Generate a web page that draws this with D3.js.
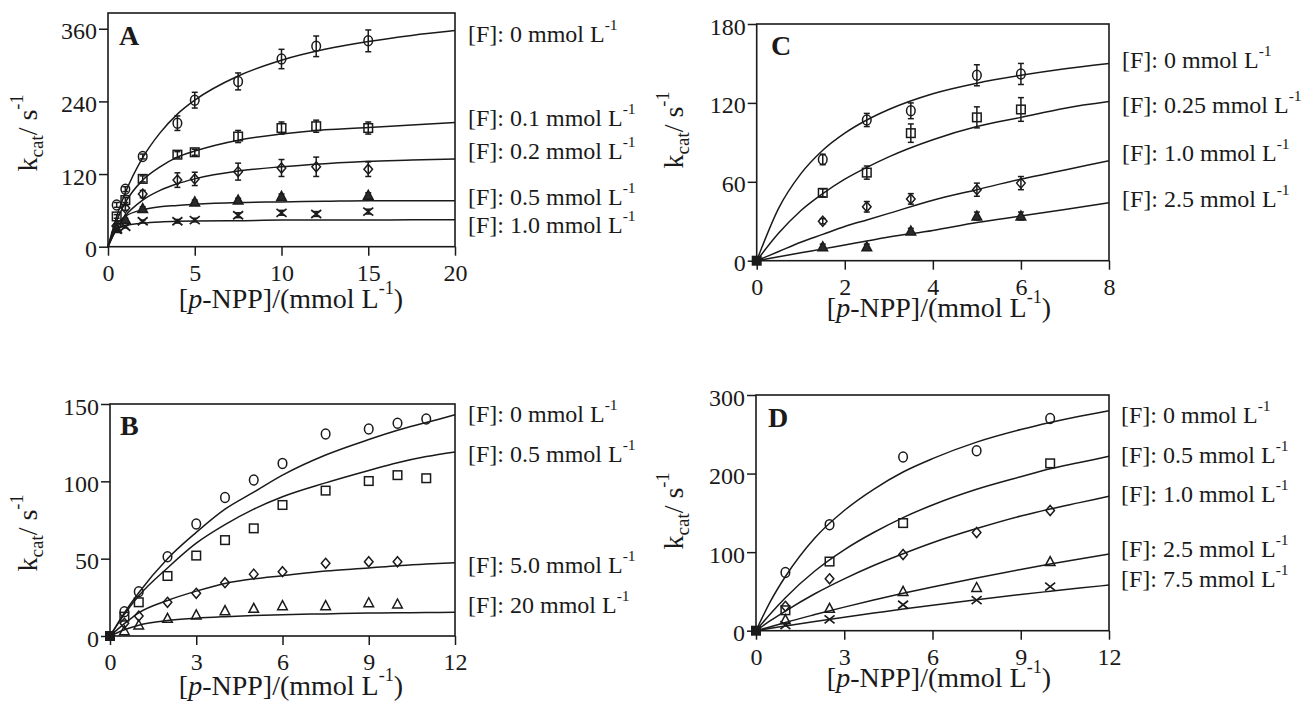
<!DOCTYPE html>
<html>
<head>
<meta charset="utf-8">
<script src="https://cdn.jsdelivr.net/npm/d3@7"></script>
<style>
body { margin: 0; background: #fff; }
svg { display: block; }
text { font-family: "Liberation Serif", "Times New Roman", serif; fill: #1a1a1a; }
</style>
</head>
<body>
<svg id="chart" width="1309" height="702"></svg>
<script>
// ---- panel A : measured points (k_cat, s-1) ----
var xA = [0.5, 1, 2, 4, 5, 7.5, 10, 12, 15];
var a_F0 = [69, 95, 149, 204, 242, 273, 310, 331, 340];
var a_F0_err = [4, 4, 4, 12, 13, 14, 16, 17, 18];
var a_F01 = [50, 77, 112, 152, 156, 182, 196, 199, 196];
var a_F01_err = [3, 4, 5, 5, 5, 10, 10, 10, 10];
var a_F02 = [35, 64, 87, 110, 112, 124, 130, 132, 128];
var a_F02_err = [3, 4, 6, 12, 11, 14, 14, 16, 12];
var a_F05 = [30, 45, 63, null, 74, 77, 83, null, 85];
var a_F05_err = [2, 2, 3, 0, 3, 3, 4, 0, 4];
var a_F10 = [28, 33, 42, 42, 44, 52, 56, 54, 58];
var a_F10_err = [2, 2, 2, 3, 3, 4, 4, 4, 4];
// fitted curves
var cxA = [0, 0.5, 1, 2, 3, 4, 5, 7.5, 10, 12.5, 15, 17.5, 20];
var fitA0 = [0, 50, 89, 147, 188, 219, 242, 282, 308, 326, 339, 349, 357];
var fitA1 = [0, 43, 73, 110, 132, 148, 158, 176, 186, 193, 197, 201, 205];
var fitA2 = [0, 30, 51, 77, 93, 104, 112, 125, 132, 137, 141, 143, 145];
var fitA3 = [0, 37, 50, 61, 66, 68, 70, 73, 74, 75, 76, 76, 76];
var fitA4 = [0, 28, 35, 39, 41, 42, 42.5, 43, 44, 44, 44, 44.5, 44.5];
var legA = ['0', '0.1', '0.2', '0.5', '1.0'];

// ---- panel C ----
var xC = [1.5, 2.5, 3.5, 5, 6];
var c_F0 = [77, 107, 114, 141, 142];
var c_F0_err = [4, 5, 6, 8, 8];
var c_F025 = [51.6, 67, 97, 109, 115];
var c_F025_err = [3, 5, 7, 8, 9];
var c_F10 = [30, 41, 47, 54, 59];
var c_F10_err = [2, 4, 4, 5, 5];
var c_F25 = [10.6, 10.6, 22.6, 34, 34];
var c_F25_err = [2, 2, 2, 3, 3];
var cxC = [0, 0.5, 1, 1.5, 2, 2.5, 3, 4, 5, 6, 7, 8];
var fitC0 = [0, 40, 66, 84, 97, 107, 115, 127, 135, 141, 146, 150];
var fitC1 = [0, 21, 38, 51, 62, 71, 79, 92, 102, 109, 116, 121];
var fitC2 = [0, 7, 14, 20, 26, 31, 36, 46, 54, 62, 69, 76];
var fitC3 = [0, 3, 6, 9, 12, 15, 18, 23, 29, 34, 39, 44];
var legC = ['0', '0.25', '1.0', '2.5'];

// ---- panel B ----
var xB = [0.5, 1, 2, 3, 4, 5, 6, 7.5, 9, 10, 11];
var b_F0 = [15.7, 28.6, 51.3, 72.4, 89.6, 100.8, 111.6, 130.6, 133.8, 137.5, 140.3];
var b_F05 = [12.5, 21.8, 38.8, 52, 62, 69.6, 84.7, 94, 100.2, 104, 102];
var b_F50 = [8.2, 12.9, 21.8, 27.6, 34.5, 40, 41.6, 47, 48, 48, null];
var b_F20 = [3.4, 7.1, 11.4, 13.6, 16.4, 17.9, 19.6, 19.6, 21.5, 20.7, null];
var cxB = [0, 0.5, 1, 2, 3, 4, 5, 6, 7.5, 9, 10, 11, 12];
var fitB0 = [0, 15, 28, 50, 67, 82, 93, 104, 117, 127, 133, 138, 143];
var fitB1 = [0, 14, 26, 44, 60, 72, 82, 90, 99, 107, 112, 116, 119];
var fitB2 = [0, 8, 15, 23, 29, 34, 37, 39, 42, 44, 45.5, 46.5, 47.4];
var fitB3 = [0, 4, 7, 10, 11.5, 12.5, 13.3, 13.8, 14.3, 14.8, 15, 15.2, 15.3];
var legB = ['0', '0.5', '5.0', '20'];

// ---- panel D ----
var xD = [1, 2.5, 5, 7.5, 10];
var d_F0 = [74, 135, 221, 229, 270];
var d_F05 = [26, 88, 137, null, 213];
var d_F10 = [31, 66, 97, 125, 153];
var d_F25 = [14, 28.5, 50, 55, 88];
var d_F75 = [7, 14.5, 33, 39, 56];
var cxD = [0, 0.5, 1, 2, 3, 4, 5, 6, 7.5, 9, 10, 11, 12];
var fitD0 = [0, 38, 69, 118, 153, 180, 202, 219, 240, 256, 265, 273, 280];
var fitD1 = [0, 22, 42, 76, 103, 125, 144, 160, 180, 196, 206, 214, 222];
var fitD2 = [0, 13, 25, 47, 66, 83, 98, 112, 130, 146, 155, 163, 171];
var fitD3 = [0, 5, 10.5, 20.5, 30, 39, 47.6, 55.7, 67.2, 78, 84.8, 91.3, 97.5];
var fitD4 = [0, 3, 6, 11.7, 17.2, 22.4, 27.6, 32.5, 39.5, 46.1, 50.2, 54.2, 58.1];
var legD = ['0', '0.5', '1.0', '2.5', '7.5'];

var ink = '#1a1a1a';

var panels = [
	{ letter: 'A', left: 108, right: 455, bottom: 246.7, top: 13, xdom: [0, 20], ydom: [0, 386],
	  xticks: [0, 5, 10, 15, 20], yticks: [0, 120, 240, 360],
	  xs: xA, ys: [a_F0, a_F01, a_F02, a_F05, a_F10], errs: [a_F0_err, a_F01_err, a_F02_err, a_F05_err, a_F10_err],
	  marks: ['circle', 'square', 'diamond', 'triangle', 'cross'], filledTri: true, origin: false,
	  cx: cxA, fits: [fitA0, fitA1, fitA2, fitA3, fitA4],
	  leg: legA, legX: 468, legY: [42, 126, 159, 205, 233],
	  letterPos: [119, 45], yTitle: [37, 133], xTitle: [291, 308] },
	{ letter: 'C', left: 756.7, right: 1109, bottom: 260.7, top: 24, xdom: [0, 8], ydom: [0, 180],
	  xticks: [0, 2, 4, 6, 8], yticks: [0, 60, 120, 180],
	  xs: xC, ys: [c_F0, c_F025, c_F10, c_F25], errs: [c_F0_err, c_F025_err, c_F10_err, c_F25_err],
	  marks: ['circle', 'square', 'diamond', 'triangle'], filledTri: true, origin: true,
	  cx: cxC, fits: [fitC0, fitC1, fitC2, fitC3],
	  leg: legC, legX: 1122, legY: [68, 113, 161, 207],
	  letterPos: [771, 55], yTitle: [683, 130], xTitle: [939, 317] },
	{ letter: 'B', left: 110, right: 455, bottom: 636, top: 404, xdom: [0, 12], ydom: [0, 150],
	  xticks: [0, 3, 6, 9, 12], yticks: [0, 50, 100, 150],
	  xs: xB, ys: [b_F0, b_F05, b_F50, b_F20], errs: null,
	  marks: ['circle', 'square', 'diamond', 'triangle'], filledTri: false, origin: true,
	  cx: cxB, fits: [fitB0, fitB1, fitB2, fitB3],
	  leg: legB, legX: 468, legY: [422, 462, 573, 613],
	  letterPos: [120, 435], yTitle: [37, 533], xTitle: [291, 695] },
	{ letter: 'D', left: 756, right: 1109, bottom: 630.7, top: 395, xdom: [0, 12], ydom: [0, 300],
	  xticks: [0, 3, 6, 9, 12], yticks: [0, 100, 200, 300],
	  xs: xD, ys: [d_F0, d_F05, d_F10, d_F25, d_F75], errs: null,
	  marks: ['circle', 'square', 'diamond', 'triangle', 'cross'], filledTri: false, origin: true,
	  cx: cxD, fits: [fitD0, fitD1, fitD2, fitD3, fitD4],
	  leg: legD, legX: 1121, legY: [423, 463, 502, 557, 587],
	  letterPos: [768, 427], yTitle: [683, 511], xTitle: [939, 687] }
];

var svg = d3.select('#chart');

function draw_marker(g, type, cx, cy, filledTri) {
	var s;
	if (type === 'circle') {
		g.append('ellipse').attr('cx', cx).attr('cy', cy).attr('rx', 4.3).attr('ry', 5)
			.attr('fill', 'none').attr('stroke', ink).attr('stroke-width', 1.5);
	} else if (type === 'square') {
		g.append('rect').attr('x', cx - 4.3).attr('y', cy - 4.3).attr('width', 8.6).attr('height', 8.6)
			.attr('fill', 'none').attr('stroke', ink).attr('stroke-width', 1.5);
	} else if (type === 'diamond') {
		s = 'M' + cx + ',' + (cy - 5) + 'L' + (cx + 4.3) + ',' + cy + 'L' + cx + ',' + (cy + 5) + 'L' + (cx - 4.3) + ',' + cy + 'Z';
		g.append('path').attr('d', s).attr('fill', 'none').attr('stroke', ink).attr('stroke-width', 1.5);
	} else if (type === 'triangle') {
		s = 'M' + cx + ',' + (cy - 5) + 'L' + (cx + 4.8) + ',' + (cy + 4) + 'L' + (cx - 4.8) + ',' + (cy + 4) + 'Z';
		g.append('path').attr('d', s).attr('fill', filledTri ? '#2a2a2a' : 'none')
			.attr('stroke', ink).attr('stroke-width', 1.5);
	} else if (type === 'cross') {
		g.append('path')
			.attr('d', 'M' + (cx - 5) + ',' + (cy - 4) + 'L' + (cx + 5) + ',' + (cy + 4) +
				'M' + (cx + 5) + ',' + (cy - 4) + 'L' + (cx - 5) + ',' + (cy + 4))
			.attr('stroke', ink).attr('stroke-width', 1.7);
	}
}

function add_sup_text(t, parts) {
	// parts: [text, kind] where kind is '', 'sup', 'sub', 'it'
	parts.forEach(function(p) {
		var ts = t.append('tspan').text(p[0]);
		if (p[1] === 'sup') ts.attr('font-size', '0.65em').attr('dy', '-0.75em');
		if (p[1] === 'sub') ts.attr('font-size', '0.68em').attr('dy', '0.32em');
		if (p[1] === 'it') ts.attr('font-style', 'italic');
		if (p[1] === 'back-sup') ts.attr('dy', '0.49em');
		if (p[1] === 'back-sub') ts.attr('dy', '-0.22em');
	});
}

panels.forEach(function(p) {
	var x = d3.scaleLinear().domain(p.xdom).range([p.left, p.right]);
	var y = d3.scaleLinear().domain(p.ydom).range([p.bottom, p.top]);
	var g = svg.append('g');

	// axes
	var xa = g.append('g').attr('transform', 'translate(0,' + p.bottom + ')')
		.call(d3.axisBottom(x).tickValues(p.xticks).tickSize(9).tickSizeOuter(0).tickPadding(8));
	var ya = g.append('g').attr('transform', 'translate(' + p.left + ',0)')
		.call(d3.axisLeft(y).tickValues(p.yticks).tickSize(9).tickSizeOuter(0).tickPadding(2));
	[xa, ya].forEach(function(a) {
		a.selectAll('path.domain').remove();
		a.selectAll('line').attr('stroke', ink).attr('stroke-width', 1.5);
		a.selectAll('text').style('font-size', '24px').attr('fill', ink)
			.style('font-family', '"Liberation Serif", "Times New Roman", serif');
	});
	ya.selectAll('text').attr('dy', '0.42em');

	// frame
	g.append('rect').attr('x', p.left).attr('y', p.top)
		.attr('width', p.right - p.left).attr('height', p.bottom - p.top)
		.attr('fill', 'none').attr('stroke', ink).attr('stroke-width', 1.6);

	// fitted curves
	var line = d3.line()
		.x(function(d) { return x(d[0]); })
		.y(function(d) { return y(d[1]); })
		.curve(d3.curveMonotoneX);
	p.fits.forEach(function(f) {
		var pts = p.cx.map(function(v, i) { return [v, f[i]]; });
		g.append('path').attr('d', line(pts)).attr('fill', 'none')
			.attr('stroke', ink).attr('stroke-width', 1.5);
	});

	// error bars + markers
	p.ys.forEach(function(ser, si) {
		ser.forEach(function(v, i) {
			if (v === null) return;
			var px = x(p.xs[i]), py = y(v);
			if (p.errs) {
				var e = p.errs[si][i];
				var y1 = y(v + e), y2 = y(v - e);
				g.append('line').attr('x1', px).attr('x2', px).attr('y1', y1).attr('y2', y2)
					.attr('stroke', ink).attr('stroke-width', 1.5);
				[y1, y2].forEach(function(yy) {
					g.append('line').attr('x1', px - 3).attr('x2', px + 3).attr('y1', yy).attr('y2', yy)
						.attr('stroke', ink).attr('stroke-width', 1.5);
				});
			}
			draw_marker(g, p.marks[si], px, py, p.filledTri);
		});
	});

	// stacked markers at the origin look like a filled square
	if (p.origin) {
		g.append('rect').attr('x', x(0) - 5).attr('y', y(0) - 5).attr('width', 10).attr('height', 10)
			.attr('fill', ink);
	}

	// panel letter
	g.append('text').attr('x', p.letterPos[0]).attr('y', p.letterPos[1])
		.style('font-size', '28px').style('font-weight', 'bold').text(p.letter);

	// y title
	var yt = g.append('text')
		.attr('transform', 'translate(' + p.yTitle[0] + ',' + p.yTitle[1] + ') rotate(-90)')
		.attr('text-anchor', 'middle').style('font-size', '28px');
	add_sup_text(yt, [['k', ''], ['cat', 'sub'], ['/ s', 'back-sub'], ['-1', 'sup']]);

	// x title
	var xt = g.append('text').attr('x', p.xTitle[0]).attr('y', p.xTitle[1])
		.attr('text-anchor', 'middle').style('font-size', '28px');
	add_sup_text(xt, [['[', ''], ['p', 'it'], ['-NPP]/(mmol L', ''], ['-1', 'sup'], [')', 'back-sup']]);

	// legend labels at the curve ends
	p.leg.forEach(function(l, i) {
		var t = g.append('text').attr('x', p.legX).attr('y', p.legY[i]).style('font-size', '24px');
		add_sup_text(t, [['[F]: ' + l + ' mmol L', ''], ['-1', 'sup']]);
	});
});
</script>
</body>
</html>
